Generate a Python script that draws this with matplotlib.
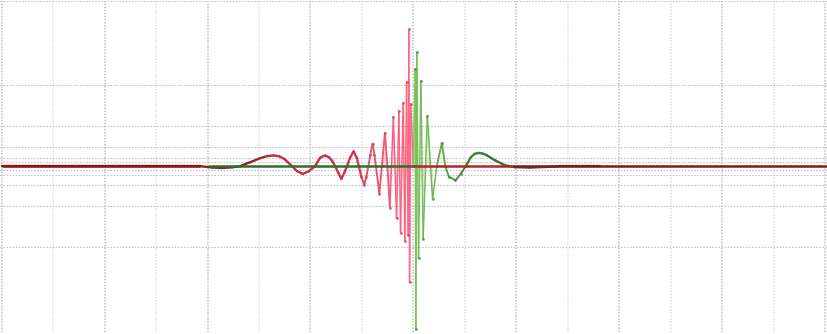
import numpy as np
import matplotlib
matplotlib.use("Agg")
import matplotlib.pyplot as plt
from matplotlib.collections import LineCollection
from matplotlib.colors import LinearSegmentedColormap

plt.rcParams['lines.scale_dashes'] = False

# ---- data (x in [-8, 8], y in [-1, 1]) ----
red_x = [-8.0, -4.15, -3.91, -3.72, -3.52, -3.37, -3.17, -2.98, -2.84, -2.72, -2.61, -2.50,
         -2.36, -2.26, -2.15, -2.03, -1.91, -1.85, -1.80, -1.72, -1.64, -1.58, -1.52,
         -1.46, -1.40, -1.34, -1.29, -1.23, -1.16, -1.10, -1.06, -1.01, -0.955, -0.913,
         -0.874, -0.835, -0.792, -0.757, -0.728, -0.660, -0.612, -0.553, -0.505, -0.456,
         -0.388, -0.326, -0.282, -0.249, -0.198, -0.165, -0.132, -0.101, -0.087, -0.074,
         -0.049, 0.0]
red_y = [0.0, 0.0, -0.008, -0.011, -0.007, 0.0, 0.024, 0.048, 0.061, 0.065, 0.060, 0.042,
         0.0, -0.030, -0.047, -0.030, 0.0, 0.033, 0.054, 0.064, 0.054, 0.033, 0.0,
         -0.039, -0.077, -0.039, 0.0, 0.051, 0.090, 0.051, 0.0, -0.063, -0.113, -0.063,
         0.0, 0.069, 0.136, 0.069, 0.0, -0.166, 0.0, 0.200, 0.0, -0.250,
         0.300, -0.316, 0.336, -0.401, 0.384, -0.451, 0.511, -0.417, 0.827, -0.702,
         0.375, 0.0]
red_rest_x = [0.0, 1.93, 8.05]
red_rest_y = [0.0, 0.0, 0.0]

green_x = [0.0, 0.035, 0.049, 0.068, 0.101, 0.146, 0.190, 0.272, 0.373, 0.456, 0.553,
           0.621, 0.689, 0.819, 0.922, 1.019, 1.117, 1.195, 1.272, 1.35, 1.427, 1.583,
           1.777, 1.971, 2.262, 2.553, 2.845, 3.62]
green_y = [0.0, 0.586, -0.983, 0.688, -0.557, 0.515, -0.441, 0.306, -0.196, 0.0, 0.140,
           0.0, -0.063, -0.086, -0.045, 0.0, 0.054, 0.075, 0.080, 0.076, 0.066, 0.036,
           0.006, -0.006, -0.009, -0.005, 0.0, 0.0]
green_rest_x = [-4.0, 0.0]
green_rest_y = [0.0, 0.0]

y_grid = [-1.0, -0.49, -0.242, -0.115, -0.052, -0.025, 0.025, 0.052, 0.115, 0.242, 0.49, 1.0]
x_major = list(range(-8, 9, 2))
x_minor = list(range(-7, 8, 2))

# ---- figure ----
fig = plt.figure(figsize=(8.27, 3.34), dpi=100)
ax = fig.add_axes([0, 0.007, 1, 0.991])
ax.set_xlim(-8.033, 8.039)
ax.set_ylim(-1, 1)
ax.set_axis_off()

dot = (0, (1.1, 1.1))
for gx in x_minor:
    ax.axvline(gx, color='#e2e2e2', lw=1.2, ls=dot, zorder=0)
for gx in x_major:
    ax.axvline(gx, color='#c4c4c4', lw=1.2, ls=dot, zorder=0)
for gy in y_grid:
    ax.axhline(gy, color='#c0c0c0', lw=0.8, ls=dot, zorder=0)

red_cmap = LinearSegmentedColormap.from_list(
    'r', [(0.0, '#8d1a1c'), (0.60, '#8f1c20'), (0.66, '#bf2e3b'), (0.85, '#cf3446'),
          (0.90, '#e8506a'), (1.0, '#ff6a88')])
green_cmap = LinearSegmentedColormap.from_list(
    'g', [(0.0, '#ff7f9f'), (0.5, '#7cc35c'), (0.53, '#6bb04e'), (0.56, '#3f8a3a'),
          (0.62, '#2f6f2f'), (1.0, '#2c682c')])


def draw_series(xs, ys, cmap, lo, hi, widths, z):
    xs = np.asarray(xs); ys = np.asarray(ys)
    pts = np.column_stack([xs, ys]).reshape(-1, 1, 2)
    segs = np.concatenate([pts[:-1], pts[1:]], axis=1)
    mids = (xs[:-1] + xs[1:]) / 2
    cols = cmap((mids - lo) / (hi - lo))
    lws = [widths(abs(m)) for m in mids]
    lc = LineCollection(segs, colors=cols, linewidths=lws, zorder=z,
                        capstyle='round', joinstyle='round')
    ax.add_collection(lc)


def wfun(a):
    return 1.7 if a > 1.0 else (1.35 if a > 0.45 else 1.05)


rx = np.array(red_x); ry = np.array(red_y)
gx_ = np.array(green_x); gy_ = np.array(green_y)

# translucent inner fill
m = rx > -0.62
ax.fill_between(rx[m], ry[m], 0, color='#ff7a95', alpha=0.3, lw=0, zorder=1)
m = gx_ < 0.42
ax.fill_between(gx_[m], gy_[m], 0, color='#8fd070', alpha=0.3, lw=0, zorder=1)

draw_series(red_x, red_y, red_cmap, -8, 0, wfun, 2)
draw_series(green_x, green_y, green_cmap, -8, 8, wfun, 2.1)

# sample dots near the centre
m = rx > -1.1
ax.plot(rx[m], ry[m], 'o', ms=2.0, color='#c84a5c', mew=0, zorder=2.2, alpha=0.8)
m = gx_ < 1.1
ax.plot(gx_[m], gy_[m], 'o', ms=2.0, color='#4c8a40', mew=0, zorder=2.2, alpha=0.8)

# zero-valued parts of the two series
ax.plot(green_rest_x, green_rest_y, color='#2f6d2f', lw=1.8, zorder=3, solid_capstyle='butt')
ax.plot(red_rest_x[:2], red_rest_y[:2], color='#b3232c', lw=1.8, zorder=3.1, solid_capstyle='butt')
ax.plot(red_rest_x[1:], red_rest_y[1:], color='#8b1515', lw=1.8, zorder=3.1, solid_capstyle='butt')
ax.plot(red_x[:2], red_y[:2], color='#8b1515', lw=1.8, zorder=2.05, solid_capstyle='butt')

fig.savefig('out.png', dpi=100, facecolor='white')
